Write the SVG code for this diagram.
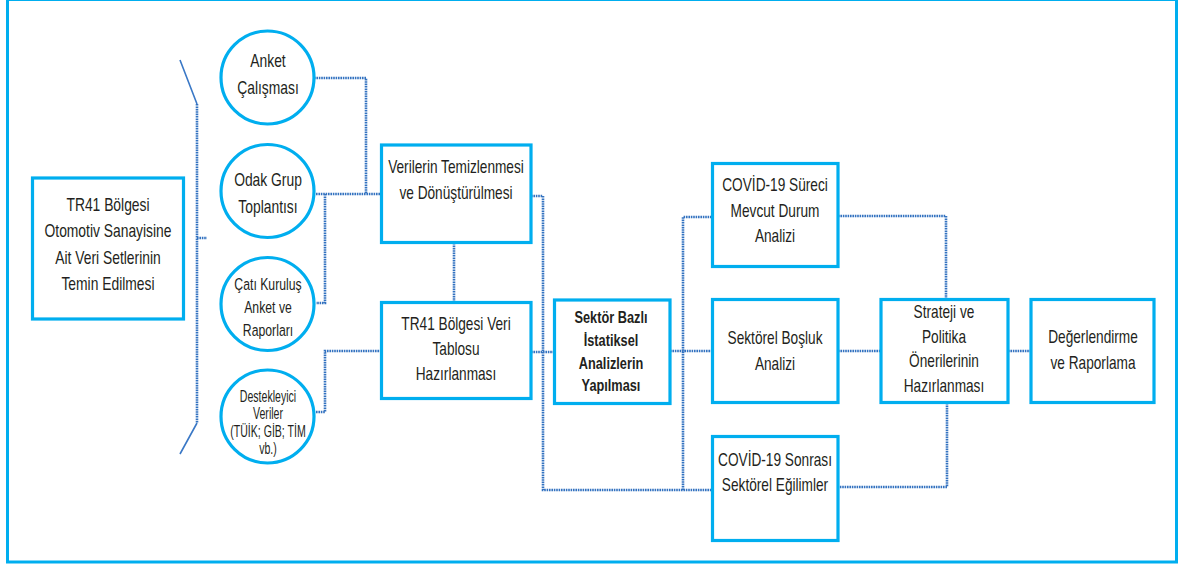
<svg xmlns="http://www.w3.org/2000/svg" width="1184" height="565" viewBox="0 0 1184 565">
<style>
.frame{fill:none;stroke:#00aeef;stroke-width:3}
.box{fill:#fff;stroke:#00aeef;stroke-width:3.2}
.conn{fill:none;stroke:#3372c0;stroke-width:2.6;stroke-dasharray:1.6 0.8}
.br{fill:none;stroke:#3a78c6;stroke-width:1.6}
text{font-family:"Liberation Sans",Arial,sans-serif;font-size:18px;fill:#231f20;text-anchor:middle}
.b{font-weight:bold;font-size:17px}
.s{font-size:17px}
</style>
<rect class="frame" x="7.5" y="-0.5" width="1169" height="562.5"/>
<g id="connectors">
<path class="br" d="M180,60 L197,104 M197,423 L180,454"/>
<path class="conn" d="M197,104 V423 M197,238 H207"/>
<path class="conn" d="M314,78 H366 V194 M316,194 H381 M325,194 V303 H316"/>
<path class="conn" d="M316,412 H325 V351 H381"/>
<path class="conn" d="M454,243 V302"/>
<path class="conn" d="M531,196 H543 V490 H712 M531,352 H554"/>
<path class="conn" d="M683,490 V217 H712 M670,351 H712"/>
<path class="conn" d="M838,216 H946 V299 M838,351 H881 M1008,351 H1031 M947,403 V487 H838"/>
</g>
<g id="n-kaynak">
<rect class="box" x="32.5" y="178" width="151" height="141"/>
<text transform="translate(108,211) scale(0.77,1)"><tspan x="0" y="0">TR41 Bölgesi</tspan><tspan x="0" y="26.5">Otomotiv Sanayisine</tspan><tspan x="0" y="53">Ait Veri Setlerinin</tspan><tspan x="0" y="79">Temin Edilmesi</tspan></text>
</g>
<g id="n-anket">
<circle class="box" cx="267.5" cy="77.5" r="46.5"/>
<text transform="translate(268,67) scale(0.77,1)"><tspan x="0" y="0">Anket</tspan><tspan x="0" y="27">Çalışması</tspan></text>
</g>
<g id="n-odak">
<circle class="box" cx="267.5" cy="191" r="46.5"/>
<text transform="translate(268,186) scale(0.77,1)"><tspan x="0" y="0">Odak Grup</tspan><tspan x="0" y="27">Toplantısı</tspan></text>
</g>
<g id="n-cati">
<circle class="box" cx="267.5" cy="304" r="46.5"/>
<text transform="translate(268,290) scale(0.72,1)" class="s"><tspan x="0" y="0">Çatı Kuruluş</tspan><tspan x="0" y="23">Anket ve</tspan><tspan x="0" y="46">Raporları</tspan></text>
</g>
<g id="n-destek">
<circle class="box" cx="267.5" cy="416.5" r="46.5"/>
<text transform="translate(268,402) scale(0.64,1)" style="font-size:16.5px"><tspan x="0" y="0">Destekleyici</tspan><tspan x="0" y="17.5">Veriler</tspan><tspan x="0" y="35">(TÜİK; GİB; TİM</tspan><tspan x="0" y="52">vb.)</tspan></text>
</g>
<g id="n-temizleme">
<rect class="box" x="381.5" y="145" width="149.5" height="97.5"/>
<text transform="translate(456,173) scale(0.76,1)"><tspan x="0" y="0">Verilerin Temizlenmesi</tspan><tspan x="0" y="26.5">ve Dönüştürülmesi</tspan></text>
</g>
<g id="n-tablo">
<rect class="box" x="381.5" y="302.5" width="149.5" height="96"/>
<text transform="translate(456,330) scale(0.76,1)"><tspan x="0" y="0">TR41 Bölgesi Veri</tspan><tspan x="0" y="25">Tablosu</tspan><tspan x="0" y="50">Hazırlanması</tspan></text>
</g>
<g id="n-sektor">
<rect class="box" x="554.5" y="300" width="115.5" height="103.5"/>
<text class="b" transform="translate(611,323) scale(0.75,1)"><tspan x="0" y="0">Sektör Bazlı</tspan><tspan x="0" y="23">İstatiksel</tspan><tspan x="0" y="46">Analizlerin</tspan><tspan x="0" y="68.5">Yapılması</tspan></text>
</g>
<g id="n-covid-surec">
<rect class="box" x="712.5" y="163.5" width="125.5" height="103"/>
<text transform="translate(775,191) scale(0.76,1)"><tspan x="0" y="0">COVİD-19 Süreci</tspan><tspan x="0" y="26.5">Mevcut Durum</tspan><tspan x="0" y="51">Analizi</tspan></text>
</g>
<g id="n-bosluk">
<rect class="box" x="712.5" y="299.5" width="125.5" height="103"/>
<text transform="translate(775,344) scale(0.76,1)"><tspan x="0" y="0">Sektörel Boşluk</tspan><tspan x="0" y="26">Analizi</tspan></text>
</g>
<g id="n-covid-sonrasi">
<rect class="box" x="712.5" y="436.5" width="125.5" height="104"/>
<text transform="translate(775,466) scale(0.76,1)"><tspan x="0" y="0">COVİD-19 Sonrası</tspan><tspan x="0" y="25">Sektörel Eğilimler</tspan></text>
</g>
<g id="n-strateji">
<rect class="box" x="881" y="299.5" width="127" height="103"/>
<text transform="translate(944,318) scale(0.76,1)"><tspan x="0" y="0">Strateji ve</tspan><tspan x="0" y="25">Politika</tspan><tspan x="0" y="49.5">Önerilerinin</tspan><tspan x="0" y="74">Hazırlanması</tspan></text>
</g>
<g id="n-degerlendirme">
<rect class="box" x="1031" y="299.5" width="123" height="103"/>
<text transform="translate(1093,343) scale(0.76,1)"><tspan x="0" y="0">Değerlendirme</tspan><tspan x="0" y="26">ve Raporlama</tspan></text>
</g>
</svg>
